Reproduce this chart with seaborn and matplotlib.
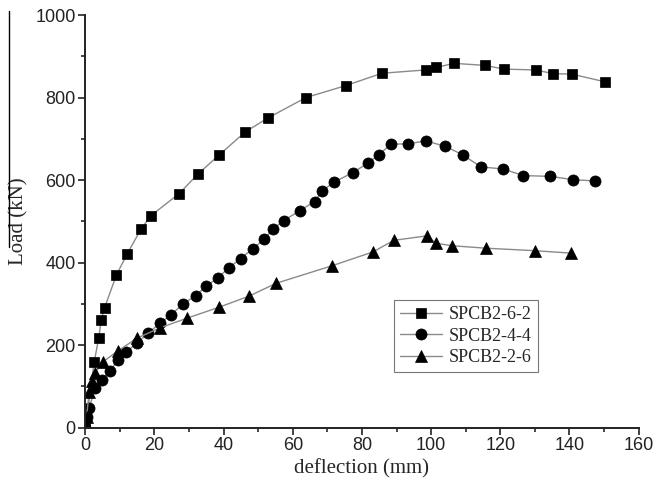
import numpy as np
import pandas as pd
import matplotlib
matplotlib.use("Agg")
import matplotlib.pyplot as plt
from matplotlib.lines import Line2D
from matplotlib.ticker import MultipleLocator
import seaborn as sns

# ── Data ──────────────────────────────────────────────────────────────────────
defl_62 = [0, 2.6, 3.9, 4.6, 5.6, 9.0, 12.1, 16.1, 19.0, 27.1, 32.5, 38.7, 46.3,
           52.9, 63.8, 75.3, 85.8, 98.4, 101.5, 106.6, 115.6, 121.1, 130.2,
           135.3, 140.6, 150.4]
load_62 = [0, 160, 218, 261, 291, 370, 421, 481, 514, 567, 614, 661, 717,
           751, 800, 829, 859, 867, 873, 883, 878, 869, 867, 858, 857, 838]

defl_44 = [0, 0.5, 1.2, 2.7, 4.9, 7.1, 9.5, 11.8, 14.9, 18.2, 21.5, 24.7, 28.3,
           31.9, 35.0, 38.3, 41.5, 44.9, 48.5, 51.8, 54.2, 57.4, 62.0, 66.3,
           68.5, 71.9, 77.3, 81.7, 84.8, 88.4, 93.4, 98.4, 104.1, 109.2,
           114.4, 120.8, 126.7, 134.5, 141.1, 147.4]
load_44 = [0, 25, 47, 96, 116, 138, 164, 183, 205, 229, 253, 273, 300,
           320, 343, 363, 387, 410, 434, 457, 481, 502, 526, 548,
           574, 595, 618, 641, 661, 687, 688, 695, 682, 661,
           632, 627, 611, 609, 601, 598]

defl_26 = [0, 0.4, 1.1, 1.8, 2.7, 5.2, 9.4, 15.0, 21.6, 29.3, 38.7, 47.4, 55.2,
           71.2, 83.2, 89.2, 98.8, 101.4, 106.0, 115.8, 129.9, 140.5]
load_26 = [0, 27, 86, 112, 132, 160, 186, 217, 242, 265, 292, 319, 350,
           392, 426, 454, 465, 447, 441, 435, 429, 423]

series_names = ["SPCB2-6-2", "SPCB2-4-4", "SPCB2-2-6"]
markers = ["s", "o", "^"]

# ── Figure ────────────────────────────────────────────────────────────────────
sns.set_style("ticks")
plt.rcParams["font.family"] = ["Liberation Sans", "DejaVu Sans"]

fig = plt.figure(figsize=(6.56, 4.86), dpi=100)
ax = fig.add_axes([0.130, 0.120, 0.8435, 0.849])

LINE_COL = "#8a8a8a"
msizes = [7.5, 8, 8.5]
for (dx, ly), name, mk, ms in zip([(defl_62, load_62), (defl_44, load_44), (defl_26, load_26)],
                                  series_names, markers, msizes):
    df = pd.DataFrame({"deflection": dx, "load": ly})
    sns.lineplot(data=df, x="deflection", y="load", sort=False, ax=ax,
                 color=LINE_COL, linewidth=1.0, marker=mk, markersize=ms,
                 markerfacecolor="black", markeredgecolor="black",
                 markeredgewidth=0.5, label=name)

ax.set_xlim(0, 160)
ax.set_ylim(0, 1000)
ax.xaxis.set_major_locator(MultipleLocator(20))
ax.xaxis.set_minor_locator(MultipleLocator(10))
ax.yaxis.set_major_locator(MultipleLocator(200))
ax.yaxis.set_minor_locator(MultipleLocator(100))
ax.tick_params(axis="both", which="major", direction="out", length=5, width=1.2,
               labelsize=13, colors="#222222", pad=2)
ax.tick_params(axis="both", which="minor", direction="out", length=3, width=1.2)
for s in ["left", "bottom"]:
    ax.spines[s].set_linewidth(1.4)
    ax.spines[s].set_color("#222222")
ax.spines[["top", "right"]].set_visible(False)

ax.set_xlabel("deflection (mm)", fontsize=15, family=["Liberation Serif"], labelpad=3)
ax.set_ylabel("Load (kN)", fontsize=15, family=["Liberation Serif"], labelpad=5)

leg = ax.legend(loc="upper left", bbox_to_anchor=(0.558, 0.31), borderaxespad=0,
                fancybox=False, edgecolor="#777777", framealpha=1, borderpad=0.35,
                labelspacing=0.25, handlelength=2.3, handletextpad=0.4,
                prop={"family": "Liberation Serif", "size": 13})
leg.get_frame().set_linewidth(0.8)

# stray vertical stroke at the far left of the original scan
fig.add_artist(Line2D([9 / 656, 9 / 656], [1 - 11 / 486, 1 - 247 / 486],
                      color="black", linewidth=1.0))

fig.savefig("out.png", dpi=100)
